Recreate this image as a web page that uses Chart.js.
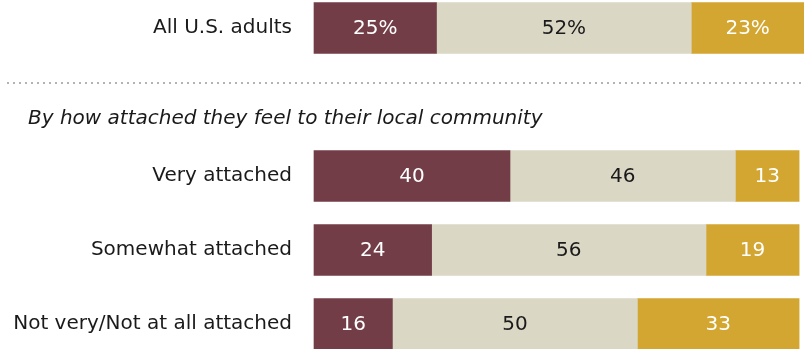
<!DOCTYPE html>
<html>
<head>
<meta charset="utf-8">
<script src="https://cdn.jsdelivr.net/npm/chart.js@4.4.1/dist/chart.umd.min.js"></script>
<style>
  html, body { margin: 0; padding: 0; background: #ffffff; }
  #wrap { position: relative; width: 804px; height: 349px; }
</style>
</head>
<body>
<div id="wrap"><canvas id="chart"></canvas></div>
<script>
// Rows: overall, a spacer row for the subgroup heading, then attachment groups
const categories = ['All U.S. adults', '', 'Very attached', 'Somewhat attached', 'Not very/Not at all attached'];
const seriesA = [25, null, 40, 24, 16];
const seriesB = [52, null, 46, 56, 50];
const seriesC = [23, null, 13, 19, 33];
const percentRows = [0];   // rows whose labels carry a % sign
const groupHeading = 'By how attached they feel to their local community';

const FONT = '"DejaVu Sans", sans-serif';
const FONT_SIZE = 20;
const colors = ['#723d46', '#dad7c5', '#d2a630'];
const labelColors = ['#ffffff', '#1a1a1a', '#ffffff'];

const valueLabels = {
  id: 'valueLabels',
  afterDatasetsDraw(chart) {
    const ctx = chart.ctx;
    ctx.save();
    ctx.font = FONT_SIZE + 'px ' + FONT;
    ctx.textAlign = 'center';
    ctx.textBaseline = 'middle';
    chart.data.datasets.forEach((ds, di) => {
      const meta = chart.getDatasetMeta(di);
      meta.data.forEach((bar, i) => {
        const v = ds.data[i];
        if (v === null || v === undefined) return;
        const { x, y, base } = bar.getProps(['x', 'y', 'base'], true);
        ctx.fillStyle = labelColors[di];
        const txt = percentRows.includes(i) ? v + '%' : String(v);
        ctx.fillText(txt, (x + base) / 2, y + 1);
      });
    });
    ctx.restore();
  }
};

const separator = {
  id: 'separator',
  afterDraw(chart) {
    const ctx = chart.ctx;
    const y = chart.scales.y;
    const lineY = y.getPixelForValue(0) + 55;
    ctx.save();
    ctx.strokeStyle = '#b3b3b3';
    ctx.lineWidth = 2;
    ctx.setLineDash([2, 4]);
    ctx.beginPath();
    ctx.moveTo(7, lineY);
    ctx.lineTo(chart.width, lineY);
    ctx.stroke();
    ctx.setLineDash([]);
    ctx.font = 'italic ' + FONT_SIZE + 'px ' + FONT;
    ctx.fillStyle = '#1a1a1a';
    ctx.textAlign = 'left';
    ctx.textBaseline = 'middle';
    ctx.fillText(groupHeading, 28, y.getPixelForValue(1) + 17);
    ctx.restore();
  }
};

new Chart(document.getElementById('chart'), {
  type: 'bar',
  data: {
    labels: categories,
    datasets: [
      { data: seriesA, backgroundColor: colors[0] },
      { data: seriesB, backgroundColor: colors[1] },
      { data: seriesC, backgroundColor: colors[2] }
    ]
  },
  options: {
    indexAxis: 'y',
    responsive: true,
    maintainAspectRatio: false,
    animation: false,
    layout: { padding: { top: 28, bottom: 25, left: 0, right: 0 } },
    datasets: { bar: { barThickness: 51, clip: false, borderWidth: 0 } },
    plugins: { legend: { display: false }, tooltip: { enabled: false } },
    scales: {
      x: {
        stacked: true, min: 0, max: 100, display: false
      },
      y: {
        stacked: true,
        offset: false,
        grid: { display: false },
        border: { display: false },
        ticks: {
          padding: 14,
          color: '#1a1a1a',
          font: { family: FONT, size: FONT_SIZE }
        },
        afterFit(scale) {
          scale.width = 314;
          scale.paddingTop = 0;
          scale.paddingBottom = 0;
        }
      }
    }
  },
  plugins: [valueLabels, separator]
});
</script>
</body>
</html>
